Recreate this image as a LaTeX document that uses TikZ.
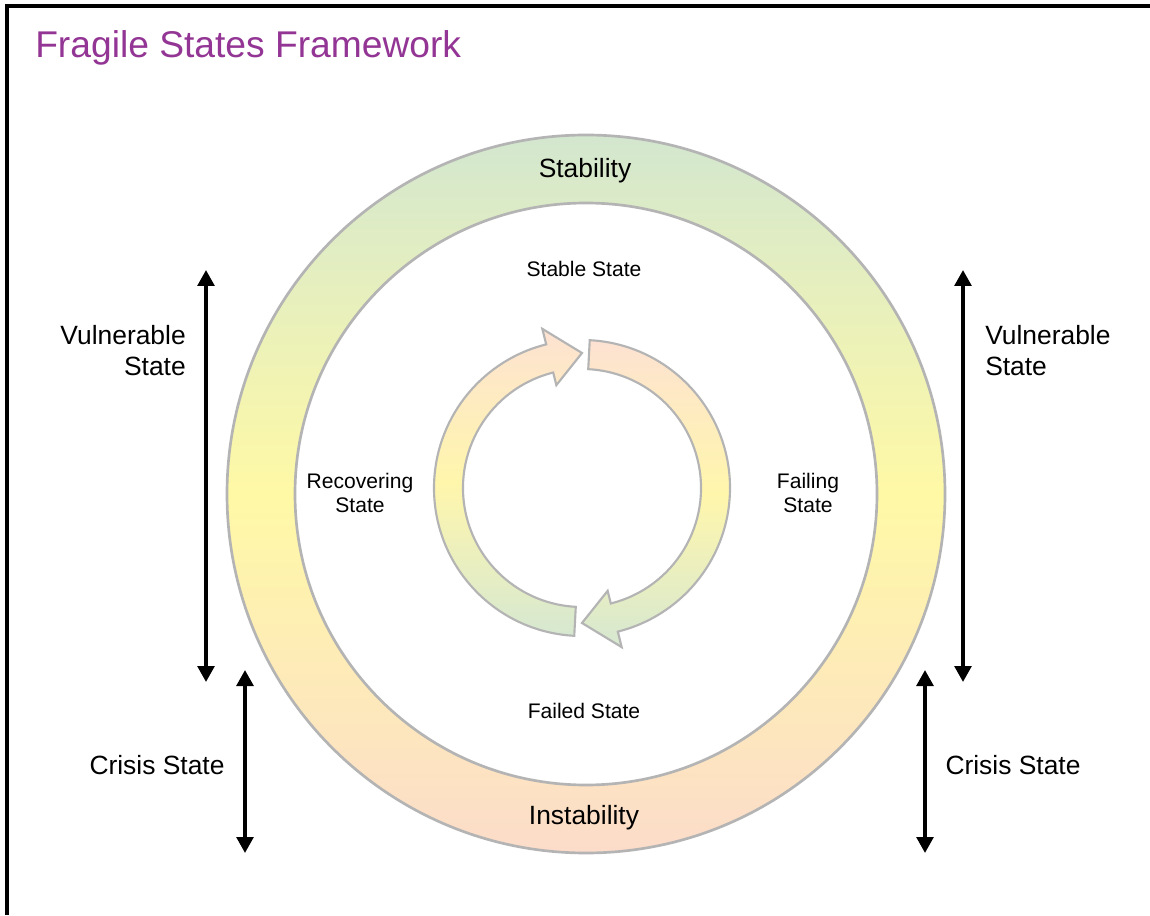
\documentclass[tikz,border=0pt]{standalone}
\usepackage{fontspec}
\setmainfont{Liberation Sans}
\usetikzlibrary{calc,arrows.meta}
\definecolor{titlepurple}{HTML}{933594}
\definecolor{ringgreen}{HTML}{D3E7CF}
\definecolor{ringyellow}{HTML}{FFF9A6}
\definecolor{ringpeach}{HTML}{FCDCCA}
\definecolor{arrpeach}{HTML}{FDE2D2}
\definecolor{arryellow}{HTML}{FFF6AC}
\definecolor{arrgreen}{HTML}{D6E8D1}
\definecolor{outlinegray}{HTML}{B4B4B4}
\begin{document}
\begin{tikzpicture}[x=0.75pt,y=0.75pt,
  big/.style={font=\fontsize{19.8}{23.3}\selectfont, inner sep=0pt},
  small/.style={font=\fontsize{15.8}{18}\selectfont, inner sep=0pt, align=center},
  dbl/.style={line width=2.8pt, {Triangle[length=12pt,width=12.5pt]}-{Triangle[length=12pt,width=12.5pt]}},
  cyclearrow/.style={draw=outlinegray, line width=1.6pt, top color=arrpeach, bottom color=arrgreen, middle color=arryellow},
]
\useasboundingbox (0,0) rectangle (1150,915);
\fill[white] (0,0) rectangle (1150,915);
\draw[line width=2.3pt] (7,0) -- (7,909) -- (1152,909);

% title
\node[anchor=base west, inner sep=0pt, text=titlepurple, font=\fontsize{27.9}{32}\selectfont] (title) at (35,915-58) {Fragile States Framework};

% ring
\coordinate (rc) at (586,421);
\shade[even odd rule, top color=ringgreen, bottom color=ringpeach, middle color=ringyellow]
  (rc) circle[radius=359] (rc) circle[radius=291];
\draw[outlinegray, line width=2pt] (rc) circle[radius=359];
\draw[outlinegray, line width=2pt] (rc) circle[radius=291];

% cycle arrows
\coordinate (ac) at (582,427);
\path[cyclearrow] ($(ac)+(87:148)$) arc[start angle=87, end angle=-76, radius=148]
  -- ($(ac)+(-76:164)$) -- ($(ac)+(-90:135)$) -- ($(ac)+(-76:106)$) -- ($(ac)+(-76:119)$)
  arc[start angle=-76, end angle=87, radius=119] -- cycle;
\path[cyclearrow] ($(ac)+(267:148)$) arc[start angle=267, end angle=104, radius=148]
  -- ($(ac)+(104:164)$) -- ($(ac)+(90:135)$) -- ($(ac)+(104:106)$) -- ($(ac)+(104:119)$)
  arc[start angle=104, end angle=267, radius=119] -- cycle;

% ring labels
\node[big, anchor=base] (stability) at (585,915-178) {Stability};
\node[big, anchor=base] (instability) at (584,915-824) {Instability};

% inner labels
\node[small, anchor=base] (stable) at (584,915-277) {Stable State};
\node[small, anchor=base] (failed) at (584,915-718) {Failed State};
\node[small] (recovering) at (360,915-493) {Recovering\\State};
\node[small] (failing) at (808,915-493) {Failing\\State};

% side labels
\node[big, align=right, anchor=east] (vulnL) at (186,915-351) {Vulnerable\\State};
\node[big, align=left, anchor=west] (vulnR) at (985,915-351) {Vulnerable\\State};
\node[big, anchor=base] (crisisL) at (157,915-774) {Crisis State};
\node[big, anchor=base] (crisisR) at (1013,915-774) {Crisis State};

% vertical arrows
\coordinate (lv1) at (206,915-270);
\coordinate (lv2) at (206,915-682);
\coordinate (lc1) at (245,915-670);
\coordinate (lc2) at (245,915-853);
\coordinate (rv1) at (963,915-270);
\coordinate (rv2) at (963,915-682);
\coordinate (rc1) at (925,915-670);
\coordinate (rc2) at (925,915-853);
\draw[dbl] (lv1) -- (lv2);
\draw[dbl] (lc1) -- (lc2);
\draw[dbl] (rv1) -- (rv2);
\draw[dbl] (rc1) -- (rc2);
\end{tikzpicture}
\end{document}
